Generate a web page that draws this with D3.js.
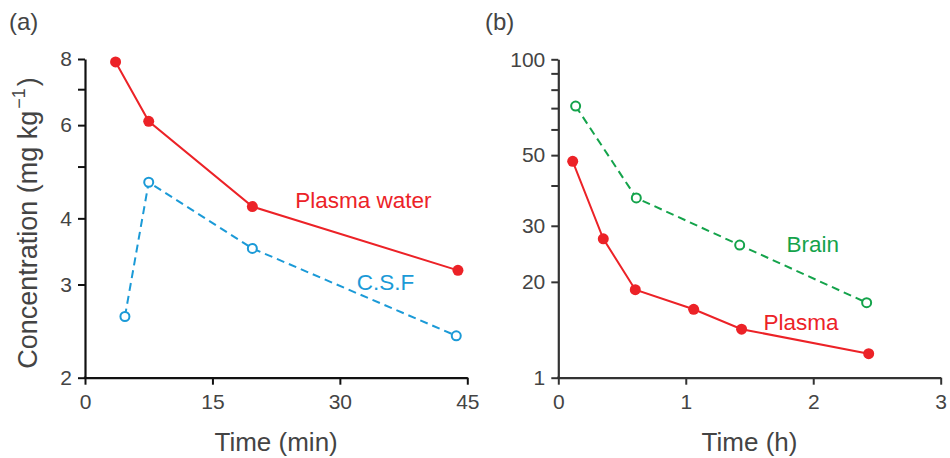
<!DOCTYPE html>
<html>
<head>
<meta charset="utf-8">
<script src="https://cdn.jsdelivr.net/npm/d3@7"></script>
<style>
  html, body { margin: 0; padding: 0; background: #fff; }
  svg { display: block; font-family: "Liberation Sans", Arial, Helvetica, sans-serif; }
</style>
</head>
<body>
<svg id="chart" width="950" height="458"></svg>
<script>
// Panel (a): concentration vs time (min)
const timeMinPlasma = [3.6, 7.5, 19.7, 43.9];
const plasmaWater   = [7.9, 6.1, 4.21, 3.19];
const timeMinCSF    = [4.7, 7.5, 19.7, 43.7];
const csf           = [2.61, 4.68, 3.51, 2.40];
const xTicksA = [0, 15, 30, 45];
const yTicksA = [2, 3, 4, 6, 8];
const yMinorA = [5, 7];

// Panel (b): concentration vs time (h)
const timeHPlasma = [0.113, 0.353, 0.604, 1.062, 1.438, 2.435];
const plasmaB     = [47.8, 27.3, 18.9, 16.4, 14.2, 11.9];
const timeHBrain  = [0.136, 0.612, 1.423, 2.419];
const brain       = [71.3, 36.7, 26.1, 17.2];
const xTicksB = [0, 1, 2, 3];
const yTicksB = [10, 20, 30, 50, 100];
const yTickLabelsB = ["1", "20", "30", "50", "100"];
const yMinorB = [40, 60, 70, 80, 90];

const RED = "#ec2227", BLUE = "#1b9ad7", GREEN = "#14a34b", TEXT = "#444";

const svg = d3.select("#chart");

const xA = d3.scaleLinear().domain([0, 45]).range([85, 467.3]);
const yA = d3.scaleLog().domain([2, 8]).range([377.7, 59]);
const xB = d3.scaleLinear().domain([0, 3]).range([558.3, 940.7]);
const yB = d3.scaleLog().domain([10, 100]).range([377.7, 59.3]);

function drawAxes(g, x, y, xTicks, yTicks, yLabels, yMinor, axisColor) {
  const xAxis = g.append("g")
    .attr("transform", `translate(0,${y.range()[0]})`)
    .call(d3.axisBottom(x).tickValues(xTicks).tickFormat(d3.format("d"))
      .tickSizeInner(7).tickSizeOuter(0).tickPadding(9));
  const yAxis = g.append("g")
    .attr("transform", `translate(${x.range()[0]},0)`)
    .call(d3.axisLeft(y).tickValues(yTicks)
      .tickFormat((d, i) => yLabels[i])
      .tickSizeInner(7).tickSizeOuter(0).tickPadding(6));
  // minor ticks
  yAxis.selectAll(".minor").data(yMinor).enter().append("line")
    .attr("class", "minor")
    .attr("x1", -7).attr("x2", 0)
    .attr("y1", d => y(d)).attr("y2", d => y(d))
    .attr("stroke", axisColor).attr("stroke-width", 2);
  [xAxis, yAxis].forEach(a => {
    a.select(".domain").attr("stroke", axisColor).attr("stroke-width", 2.2);
    a.selectAll(".tick line").attr("stroke", axisColor).attr("stroke-width", 2);
    a.selectAll(".tick text").attr("fill", TEXT).style("font-size", "21px");
  });
  // close the corner where the two axis lines meet
  g.append("line")
    .attr("x1", x.range()[0] - 1.1).attr("x2", x.range()[0] + 1.1)
    .attr("y1", y.range()[0]).attr("y2", y.range()[0])
    .attr("stroke", axisColor).attr("stroke-width", 2.2);
}

function drawSeries(g, x, y, xs, ys, color, dashed, open) {
  const pts = xs.map((t, i) => [x(t), y(ys[i])]);
  g.append("path")
    .attr("d", d3.line()(pts))
    .attr("fill", "none")
    .attr("stroke", color)
    .attr("stroke-width", 2)
    .attr("stroke-dasharray", dashed ? "8,5" : null);
  g.selectAll(null).data(pts).enter().append("circle")
    .attr("cx", d => d[0]).attr("cy", d => d[1])
    .attr("r", open ? 4.5 : 5.5)
    .attr("fill", open ? "#fff" : color)
    .attr("stroke", open ? color : "none")
    .attr("stroke-width", 2);
}

// ---- Panel (a) ----
const gA = svg.append("g");
drawAxes(gA, xA, yA, xTicksA, yTicksA, yTicksA.map(String), yMinorA, "#111");
drawSeries(gA, xA, yA, timeMinPlasma, plasmaWater, RED, false, false);
drawSeries(gA, xA, yA, timeMinCSF, csf, BLUE, true, true);

gA.append("text").attr("x", xA(24.75)).attr("y", 208)
  .attr("fill", RED).style("font-size", "22.5px").text("Plasma water");
gA.append("text").attr("x", xA(32.0)).attr("y", 290)
  .attr("fill", BLUE).style("font-size", "22.5px").text("C.S.F");

gA.append("text").attr("x", xA(22.5)).attr("y", 451)
  .attr("text-anchor", "middle").attr("fill", TEXT)
  .style("font-size", "26px").text("Time (min)");

const yTitle = gA.append("text")
  .attr("transform", "translate(37,223) rotate(-90)")
  .attr("text-anchor", "middle").attr("fill", TEXT)
  .style("font-size", "27px");
yTitle.append("tspan").text("Concentration (mg kg");
yTitle.append("tspan").attr("dy", -12).attr("dx", 2).style("font-size", "18px").text("\u22121");
yTitle.append("tspan").attr("dy", 12).attr("dx", 2).text(")");

gA.append("text").attr("x", 9).attr("y", 30)
  .attr("fill", TEXT).style("font-size", "24px").text("(a)");

// ---- Panel (b) ----
const gB = svg.append("g");
drawAxes(gB, xB, yB, xTicksB, yTicksB, yTickLabelsB, yMinorB, "#333");
drawSeries(gB, xB, yB, timeHBrain, brain, GREEN, true, true);
drawSeries(gB, xB, yB, timeHPlasma, plasmaB, RED, false, false);

gB.append("text").attr("x", xB(1.79)).attr("y", 252)
  .attr("fill", GREEN).style("font-size", "22.5px").text("Brain");
gB.append("text").attr("x", xB(1.61)).attr("y", 330)
  .attr("fill", RED).style("font-size", "22.5px").text("Plasma");

gB.append("text").attr("x", xB(1.5)).attr("y", 451)
  .attr("text-anchor", "middle").attr("fill", TEXT)
  .style("font-size", "26px").text("Time (h)");

gB.append("text").attr("x", 485).attr("y", 30)
  .attr("fill", TEXT).style("font-size", "24px").text("(b)");
</script>
</body>
</html>
